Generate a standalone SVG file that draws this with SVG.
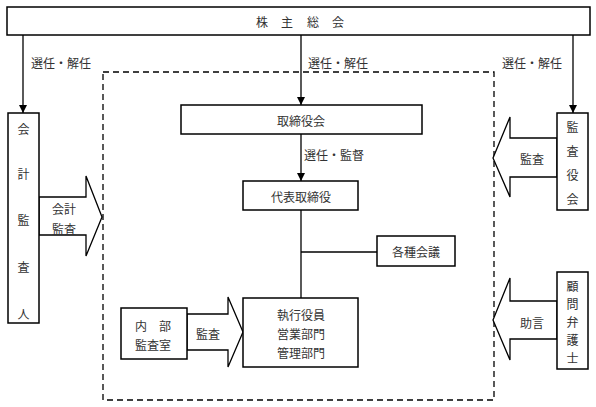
<svg xmlns="http://www.w3.org/2000/svg" width="596" height="407" viewBox="0 0 596 407">
<style>
.box{fill:#fff;stroke:#000;stroke-width:1.5}
.arr{fill:#fff;stroke:#000;stroke-width:1.3}
.ln{stroke:#000;stroke-width:1.3;fill:none}
text{font-family:"Noto Sans CJK JP","Noto Sans",sans-serif;font-size:12px;fill:#333;text-anchor:middle;dominant-baseline:central}
</style>
<defs>
<marker id="ah" viewBox="0 0 10 10" refX="10" refY="5" markerWidth="8" markerHeight="8" markerUnits="userSpaceOnUse" orient="auto">
<path d="M0,0 L10,5 L0,10 z" fill="#000"/>
</marker>
</defs>
<rect width="596" height="407" fill="#fff"/>
<rect x="103" y="72" width="391" height="328" fill="none" stroke="#000" stroke-width="1.3" stroke-dasharray="6,4"/>
<g id="connectors">
<line class="ln" x1="23" y1="35" x2="23" y2="113" marker-end="url(#ah)"/>
<line class="ln" x1="301" y1="35" x2="301" y2="105" marker-end="url(#ah)"/>
<line class="ln" x1="573" y1="35" x2="573" y2="113" marker-end="url(#ah)"/>
<line class="ln" x1="301" y1="134" x2="301" y2="181" marker-end="url(#ah)"/>
<line class="ln" x1="301" y1="210" x2="301" y2="298"/>
<line class="ln" x1="301" y1="252" x2="377" y2="252"/>
<text x="61" y="62">選任・解任</text>
<text x="338" y="62">選任・解任</text>
<text x="532" y="62">選任・解任</text>
<text x="334" y="154">選任・監督</text>
<polygon class="arr" points="39,197 86,197 86,176 102,217 86,256 86,235 39,235"/>
<text x="64" y="208">会計</text>
<text x="64" y="228">監査</text>
<polygon class="arr" points="557,138 510,138 510,117 493,158 510,197 510,177 557,177"/>
<text x="532" y="158">監査</text>
<polygon class="arr" points="557,301 510,301 510,278 493,320 510,360 510,339 557,339"/>
<text x="532" y="322">助言</text>
<polygon class="arr" points="187,314 228,314 228,297 243,332 228,367 228,350 187,350"/>
<text x="208" y="333">監査</text>
</g>
<g id="n-kabunushi">
<rect class="box" x="7" y="7" width="583" height="28"/>
<text x="262" y="21">株</text><text x="287" y="21">主</text><text x="313" y="21">総</text><text x="338" y="21">会</text>
</g>
<g id="n-kaikei">
<rect class="box" x="8" y="113" width="31" height="210"/>
<text x="23.5" y="128">会</text><text x="23.5" y="173">計</text><text x="23.5" y="219">監</text><text x="23.5" y="266">査</text><text x="23.5" y="313">人</text>
</g>
<g id="n-torishimariyakukai">
<rect class="box" x="181" y="105" width="241" height="29"/>
<text x="301" y="120">取締役会</text>
</g>
<g id="n-daihyo">
<rect class="box" x="243" y="181" width="115" height="29"/>
<text x="301" y="196">代表取締役</text>
</g>
<g id="n-kaigi">
<rect class="box" x="377" y="236" width="78" height="30"/>
<text x="416" y="251">各種会議</text>
</g>
<g id="n-shikko">
<rect class="box" x="243" y="298" width="115" height="69"/>
<text x="301" y="314">執行役員</text><text x="301" y="333">営業部門</text><text x="301" y="352">管理部門</text>
</g>
<g id="n-naibu">
<rect class="box" x="121" y="308" width="66" height="51"/>
<text x="153" y="325">内　部</text><text x="153" y="344">監査室</text>
</g>
<g id="n-kansayakukai">
<rect class="box" x="557" y="113" width="31" height="97"/>
<text x="572.5" y="126">監</text><text x="572.5" y="150">査</text><text x="572.5" y="174">役</text><text x="572.5" y="198">会</text>
</g>
<g id="n-komon">
<rect class="box" x="557" y="272" width="31" height="97"/>
<text x="572.5" y="285">顧</text><text x="572.5" y="303">問</text><text x="572.5" y="321">弁</text><text x="572.5" y="339">護</text><text x="572.5" y="357">士</text>
</g>
</svg>
